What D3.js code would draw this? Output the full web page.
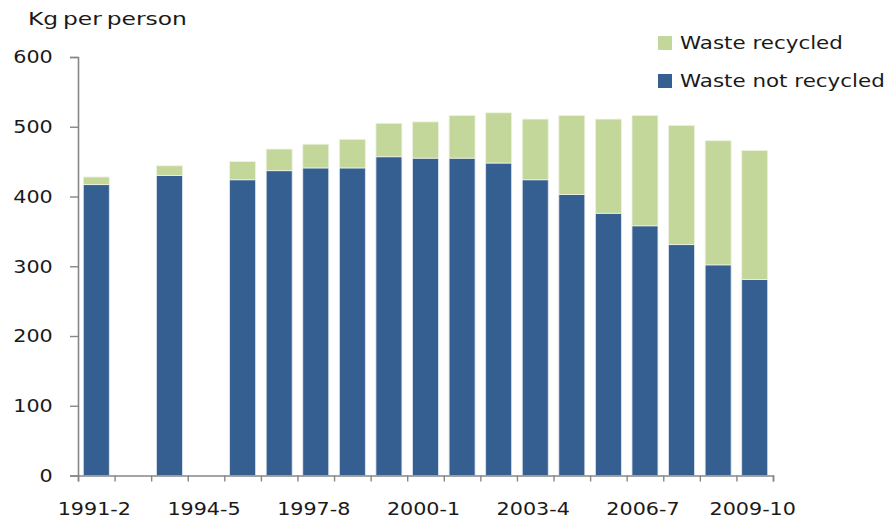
<!DOCTYPE html>
<html>
<head>
<meta charset="utf-8">
<script src="https://cdn.jsdelivr.net/npm/d3@7"></script>
<style>
  body { margin: 0; background: #fff; }
  text { font-family: "DejaVu Sans", Verdana, sans-serif; fill: #1a1a1a; }
</style>
</head>
<body>
<div id="chart"></div>
<script>
// years on the x axis (1992-3 and 1994-5 have no data)
const years = ['1991-2', '1992-3', '1993-4', '1994-5', '1995-6', '1996-7', '1997-8', '1998-9',
  '1999-00', '2000-1', '2001-2', '2002-3', '2003-4', '2004-5', '2005-6', '2006-7',
  '2007-8', '2008-9', '2009-10'];
const notRecycled = [417, null, 430, null, 424, 437, 441, 441, 457, 455, 455, 448, 424, 403, 376, 358, 331, 302, 281];
const recycled = [11, null, 14, null, 26, 31, 34, 41, 48, 52, 61, 72, 87, 113, 135, 158, 171, 178, 185];
const xLabels = ['1991-2', '1994-5', '1997-8', '2000-1', '2003-4', '2006-7', '2009-10'];
const yTicks = [0, 100, 200, 300, 400, 500, 600];

const width = 892, height = 520;
const plotL = 78, plotR = 773, plotT = 57, plotB = 475.5;
const blue = '#365f91', green = '#c4d79b';

const svg = d3.select('#chart').append('svg')
  .attr('width', width)
  .attr('height', height);

const x = d3.scaleBand().domain(years).range([plotL, plotR])
  .paddingInner(0.29).paddingOuter(0.145);
const y = d3.scaleLinear().domain([0, 600]).range([plotB, plotT]);

const rows = years.map((yr, i) => ({ yr, a: notRecycled[i], b: recycled[i] }))
  .filter(d => d.a != null);

// bars: not recycled at the bottom, recycled on top
svg.append('g').selectAll('rect')
  .data(rows).enter().append('rect')
  .attr('x', d => x(d.yr))
  .attr('width', x.bandwidth())
  .attr('y', d => y(d.a))
  .attr('height', d => y(0) - y(d.a))
  .attr('fill', blue)
  .attr('stroke', '#dfe6ef').attr('stroke-width', 0.8);

svg.append('g').selectAll('rect')
  .data(rows).enter().append('rect')
  .attr('x', d => x(d.yr))
  .attr('width', x.bandwidth())
  .attr('y', d => y(d.a + d.b))
  .attr('height', d => y(d.a) - y(d.a + d.b))
  .attr('fill', green)
  .attr('stroke', '#eef3e2').attr('stroke-width', 0.8);

// y axis
const yAxis = svg.append('g')
  .attr('transform', `translate(${plotL},0)`)
  .call(d3.axisLeft(y).tickValues(yTicks).tickSize(8).tickPadding(14));
yAxis.select('.domain').attr('stroke', '#868686').attr('stroke-width', 1.6);
yAxis.selectAll('.tick line').attr('stroke', '#868686').attr('stroke-width', 1.4);
yAxis.selectAll('text').attr('font-size', 18).attr('fill', '#1a1a1a')
  .attr('transform', 'scale(1.15,1)');

// x axis: tick marks at category boundaries
const xEdge = d3.scaleLinear().domain([0, years.length]).range([plotL, plotR]);
const xTicks = svg.append('g')
  .attr('transform', `translate(0,${plotB})`)
  .call(d3.axisBottom(xEdge).tickValues(d3.range(years.length + 1)).tickSize(6).tickFormat(''));
xTicks.select('.domain').attr('stroke', '#868686').attr('stroke-width', 1.6);
xTicks.selectAll('.tick line').attr('stroke', '#868686').attr('stroke-width', 1.4);

const xAxis = svg.append('g')
  .attr('transform', `translate(0,${plotB})`)
  .call(d3.axisBottom(x).tickValues(xLabels).tickSize(0).tickPadding(27));
xAxis.select('.domain').remove();
xAxis.selectAll('text').attr('font-size', 18).attr('fill', '#1a1a1a')
  .attr('transform', 'scale(1.15,1)');
xAxis.selectAll('.tick').attr('transform', d => `translate(${x(d) + x.bandwidth() / 2 - 2},0)`);

// axis title
svg.append('text')
  .attr('transform', 'translate(28,25) scale(1.3,1)')
  .attr('font-size', 18)
  .style('word-spacing', '-2px')
  .text('Kg per person');

// legend
const legend = [
  { label: 'Waste recycled', color: green, y: 43 },
  { label: 'Waste not recycled', color: blue, y: 81 }
];
const lg = svg.append('g').selectAll('g')
  .data(legend).enter().append('g')
  .attr('transform', d => `translate(658,${d.y})`);
lg.append('rect')
  .attr('x', 0).attr('y', -7)
  .attr('width', 14).attr('height', 14)
  .attr('fill', d => d.color);
lg.append('text')
  .attr('transform', 'translate(22,0) scale(1.26,1)')
  .attr('dy', '0.36em')
  .attr('font-size', 17)
  .text(d => d.label);
</script>
</body>
</html>
